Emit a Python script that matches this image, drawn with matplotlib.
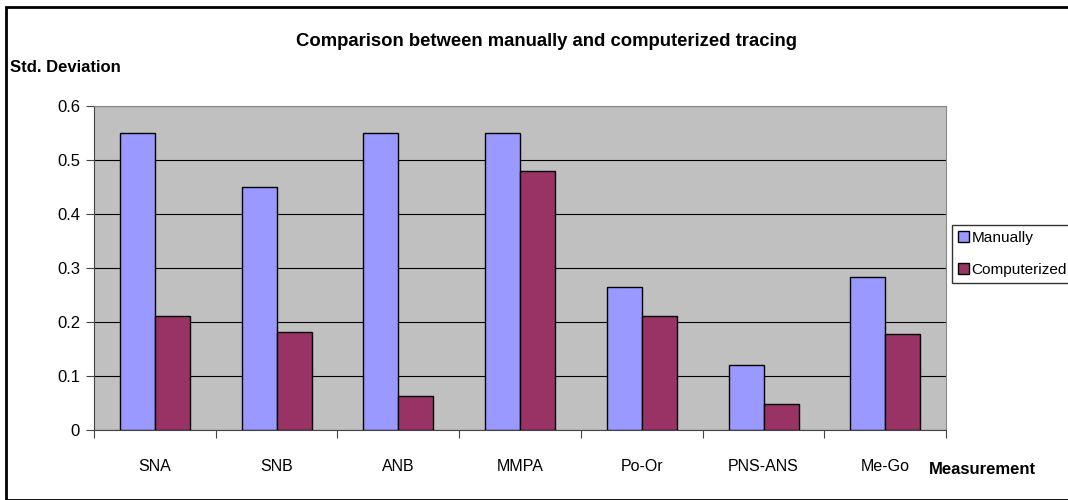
import matplotlib.pyplot as plt
from matplotlib import font_manager
import numpy as np
from matplotlib.patches import Rectangle

# Narrow Arial-like face if present (the reference text is tall and narrow)
names = {f.name for f in font_manager.fontManager.ttflist}
if 'Liberation Sans Narrow' in names:
    plt.rcParams['font.family'] = ['Liberation Sans Narrow', 'DejaVu Sans']
    fs_title, fs_lab, fs_tick, fs_cat, fs_leg = 15, 14.5, 14, 14, 13.3
else:
    plt.rcParams['font.family'] = ['Liberation Sans', 'DejaVu Sans']
    fs_title, fs_lab, fs_tick, fs_cat, fs_leg = 13.3, 12, 12, 11.5, 11.1

# Data
categories = ['SNA', 'SNB', 'ANB', 'MMPA', 'Po-Or', 'PNS-ANS', 'Me-Go']
manually = [0.55, 0.45, 0.55, 0.55, 0.265, 0.12, 0.283]
computerized = [0.211, 0.181, 0.063, 0.48, 0.211, 0.048, 0.178]
y_ticks = [0, 0.1, 0.2, 0.3, 0.4, 0.5, 0.6]

fig = plt.figure(figsize=(10.68, 5.0), dpi=100)
ax = fig.add_axes([0.088, 0.14, 0.798, 0.648])

x = np.arange(len(categories))
w = 0.288
ax.bar(x - w/2, manually, w, color='#9999FF', edgecolor='black', linewidth=1, label='Manually', zorder=3)
ax.bar(x + w/2, computerized, w, color='#993366', edgecolor='black', linewidth=1, label='Computerized', zorder=3)

ax.set_facecolor('#C0C0C0')
ax.set_xlim(-0.5, len(categories) - 0.5)
ax.set_ylim(0, 0.6)
ax.set_yticks(y_ticks)
ax.set_yticklabels(['0', '0.1', '0.2', '0.3', '0.4', '0.5', '0.6'], fontsize=fs_tick)
ax.yaxis.grid(True, color='black', linewidth=0.8, zorder=1)
ax.set_axisbelow(True)

# category boundaries as ticks, labels centered
ax.set_xticks(np.arange(-0.5, len(categories), 1.0))
ax.set_xticklabels([])
ax.set_xticks(x, minor=True)
ax.set_xticklabels(categories, minor=True, fontsize=fs_cat)
ax.tick_params(axis='x', which='minor', length=0, pad=21)
ax.tick_params(axis='x', which='major', length=6, direction='out', color='#444444')
ax.tick_params(axis='y', length=6, direction='out', color='#444444', pad=4)

for s in ['top', 'right']:
    ax.spines[s].set_color('#888888')
ax.spines['left'].set_color('#444444')
ax.spines['bottom'].set_color('#444444')

fig.text(0.512, 0.918, 'Comparison between manually and computerized tracing',
         ha='center', va='center', fontsize=fs_title, fontweight='bold')
fig.text(0.009, 0.864, 'Std. Deviation', ha='left', va='center', fontsize=fs_lab, fontweight='bold')
fig.text(0.87, 0.062, 'Measurement', ha='left', va='center', fontsize=fs_lab, fontweight='bold')

leg = fig.legend(loc='center left', bbox_to_anchor=(0.891, 0.492), fontsize=fs_leg,
                 frameon=True, fancybox=False, edgecolor='black', handlelength=0.7,
                 handleheight=0.7, handletextpad=0.2, borderpad=0.4, labelspacing=1.15,
                 borderaxespad=0)
leg.get_frame().set_linewidth(1)

# figure border
fig.patches.append(Rectangle((0.006, 0.0), 1.0, 0.986, transform=fig.transFigure,
                             fill=False, edgecolor='black', linewidth=2))

fig.savefig('out.png', dpi=100)
